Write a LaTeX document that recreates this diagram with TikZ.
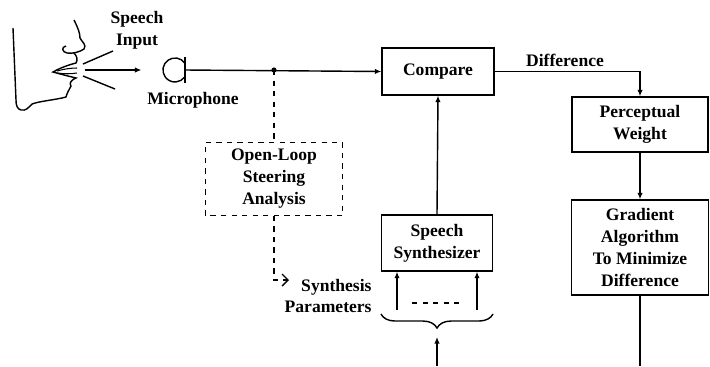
\documentclass[tikz,border=0pt]{standalone}
\usepackage{fontspec}
\setmainfont{Liberation Serif}
\usetikzlibrary{arrows.meta,decorations.pathreplacing}

\begin{document}
\begin{tikzpicture}[x=0.02cm, y=-0.02cm, line width=0.8pt, font=\fontsize{10}{12.5}\selectfont\bfseries]
\tikzstyle{block} = [rectangle, draw=black, align=center, inner sep=2pt]
\tikzstyle{dashedBlock} = [block, dashed]
\tikzstyle{arr} = [-{Latex[length=1.3mm,width=1.1mm]}]
\tikzstyle{txt} = [align=center, inner sep=1pt]
\useasboundingbox (0,0) rectangle (710,366);

% face and speech rays
\draw (74,20) .. controls (78,28) and (80,33) .. (80,38) .. controls (82,42) and (87,45) .. (84,49)
  .. controls (80,52) and (72,54) .. (67,53) .. controls (62,52) and (61,47) .. (66,46);
\draw (74,53) .. controls (77,56) and (78,60) .. (76,63) .. controls (68,65) and (60,68) .. (53,72)
  .. controls (60,74) and (68,76) .. (76,78) .. controls (71,80) and (69,83) .. (71,86)
  .. controls (69,90) and (67,93) .. (66,97) .. controls (55,100) and (40,101) .. (32,104)
  .. controls (28,108) and (26,111) .. (21,110) .. controls (17,109) and (16,105) .. (16,100)
  -- (13,28);
\draw[line width=0.6pt] (57,71) .. controls (64,69) and (71,68) .. (77,68);
\draw[line width=0.6pt] (57,73) .. controls (64,74) and (71,74) .. (77,73);
\draw (83,64) -- (113,51);
\draw (83,76) -- (115,89);
\node (Mouth) at (83,70) [inner sep=0pt] {};
\node (Talker) at (143,70) [inner sep=0pt] {};
\draw[arr] (Mouth) -- (Talker);
\node (Input) at (137,30) [txt] {Speech\\Input};

% microphone
\draw (184.8,63.1) arc (35:325:0.24cm);
\draw (185,57) -- (185,83);
\coordinate (mic) at (185,70);
\node (MicLabel) at (193,100) [txt] {Microphone};

\node (Compare) at (438,71.5) [block, minimum width=2.24cm, minimum height=0.94cm] {Compare};
\node (Weight) at (640,124.5) [block, minimum width=2.72cm, minimum height=1.1cm] {Perceptual\\Weight};
\node (Gradient) at (640,247.5) [block, minimum width=2.74cm, minimum height=1.9cm] {Gradient\\Algorithm\\To Minimize\\Difference};
\node (OpenLoop) at (274,179) [dashedBlock, minimum width=2.72cm, minimum height=1.44cm, solid, draw=none] {Open-Loop\\Steering\\Analysis};
\draw[dashed] (OpenLoop.south west) rectangle (OpenLoop.north east);
\node (Synth) at (437,243) [block, minimum width=2.22cm, minimum height=1.12cm] {Speech\\Synthesizer};
\node (Params) at (374,296) [txt, anchor=east, align=right] {Synthesis\\Parameters};

% signal path
\coordinate (junc) at (274,70);
\draw[arr] (mic) -- (Compare.west);
\fill (junc) circle (2.6);
\draw[arr] (Compare.east) -| (Weight.north);
\node (DiffLabel) at (565,60) [txt] {Difference};
\draw[arr] (Weight.south) -- (Gradient.north);
\coordinate (out) at (640,366);
\draw (Gradient.south) -- (out);
\draw[arr] (Synth.north) -- (Compare.south);

% open loop path
\coordinate (parm) at (289,280);
\draw[dashed] (junc) -- (OpenLoop.north);
\draw[dashed, -{Straight Barb[length=1.2mm]}] (OpenLoop.south) |- (parm);

% synthesizer inputs
\coordinate (in1) at (397,310);
\coordinate (in2) at (477,310);
\draw[arr] (in1) -- (in1 |- Synth.south);
\draw[arr] (in2) -- (in2 |- Synth.south);
\coordinate (dA) at (412,303);
\coordinate (dB) at (462,303);
\draw[dashed] (dA) -- (dB);
\coordinate (brA) at (381,314);
\coordinate (brB) at (493,314);
\draw[decorate, decoration={brace, mirror, amplitude=8pt}] (brA) -- (brB);
\coordinate (feed) at (437,366);
\coordinate (tip) at (437,337);
\draw[arr] (feed) -- (tip);
\end{tikzpicture}
\end{document}
